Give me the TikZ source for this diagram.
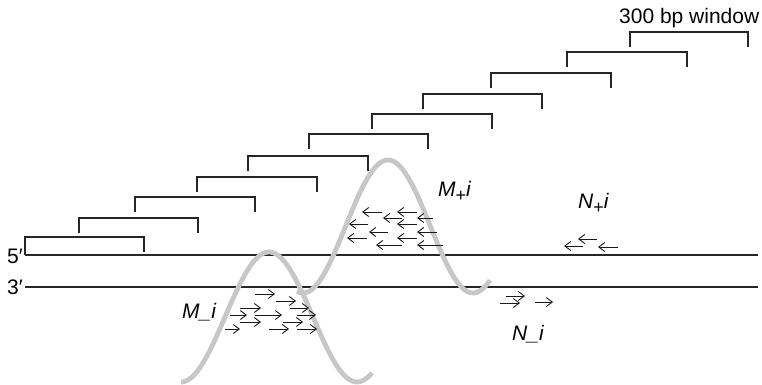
\documentclass[tikz,border=0pt]{standalone}
\usepackage{fontspec}
\setmainfont{Liberation Sans}
\usetikzlibrary{arrows.meta}

\tikzset{
  strand/.style={line width=1.1pt, black!85},
  window/.style={line width=1.1pt, black!85},
  hump/.style={line width=4.8pt, color=black!22, line cap=butt},
  readarrow/.style={line width=0.9pt, black!90,
    -{Straight Barb[length=6pt,width=9pt,line width=0.9pt]}},
  lbl/.style={inner sep=0pt, font=\fontsize{21}{25}\selectfont},
  ilbl/.style={inner sep=0pt, font=\fontsize{21}{25}\selectfont\itshape},
}
\newcommand{\plussub}{\raisebox{-5.5pt}{\fontsize{18}{18}\selectfont\upshape +}}

\begin{document}
\begin{tikzpicture}[x=1pt, y=-1pt]
\useasboundingbox (0,0) rectangle (762,385);

% 300 bp sliding windows: left x, top y, right x
\foreach \l/\t/\r in {79/218/198, 135/197/255, 197/177/317, 248/156/368,
                      309/134/428, 372/114/492, 423/94/542, 491/73/611,
                      567/52/687, 630/32/748}
  \draw[window] (\l,\t+15) -- (\l,\t) -- (\r,\t) -- (\r,\t+15);
\draw[window] (25,255) -- (25,237) -- (144,237) -- (144,252);

\node[lbl, anchor=base west] (winlabel) at (619,24) {300 bp window};

% the two strands
\coordinate (s5a) at (25,255);  \coordinate (s5b) at (758,255);
\coordinate (s3a) at (25,287);  \coordinate (s3b) at (758,287);
\draw[strand] (s5a) -- (s5b);
\draw[strand] (s3a) -- (s3b);
\node[lbl, anchor=base east] (five) at (23,263) {5′};
\node[lbl, anchor=base east] (three) at (23,294) {3′};

% coverage humps
\draw[hump] plot[domain=297:490, samples=90]
  (\x, {226.5 - 66.5*cos((\x-388)*2.11765)});
\draw[hump] plot[domain=181:372, samples=90]
  (\x, {317 - 65*cos((\x-269)*2.04545)});

% reads on the minus strand (pointing left): tip x, tail x, y
\foreach \a/\b/\y in {362/382/212, 397/417/212,
                      383/402/218, 417/433/218,
                      349/368/224, 397/417/224,
                      369/388/232, 417/437/232,
                      347/367/238, 397/417/238,
                      376/402/245, 417/443/245,
                      564/583/246, 578/597/239, 598/618/247}
  \draw[readarrow] (\b,\y) -- (\a,\y);

% reads on the plus strand (pointing right): tail x, tip x, y
\foreach \a/\b/\y in {255/275/294, 276/296/301,
                      290/309/308, 240/261/308,
                      230/247/315, 255/282/315, 297/316/315,
                      240/261/322, 283/303/322,
                      225/240/329, 269/289/329, 297/317/329,
                      506/525/296, 500/520/303, 535/553/302}
  \draw[readarrow] (\a,\y) -- (\b,\y);

% labels
\node[ilbl, anchor=base west] (mplus) at (438,196) {M\plussub i};
\node[ilbl, anchor=base west] (nplus) at (578,208) {N\plussub i};
\node[ilbl, anchor=base west] (mminus) at (182,318) {M\_i};
\node[ilbl, anchor=base west] (nminus) at (512,340) {N\_i};
\end{tikzpicture}
\end{document}
